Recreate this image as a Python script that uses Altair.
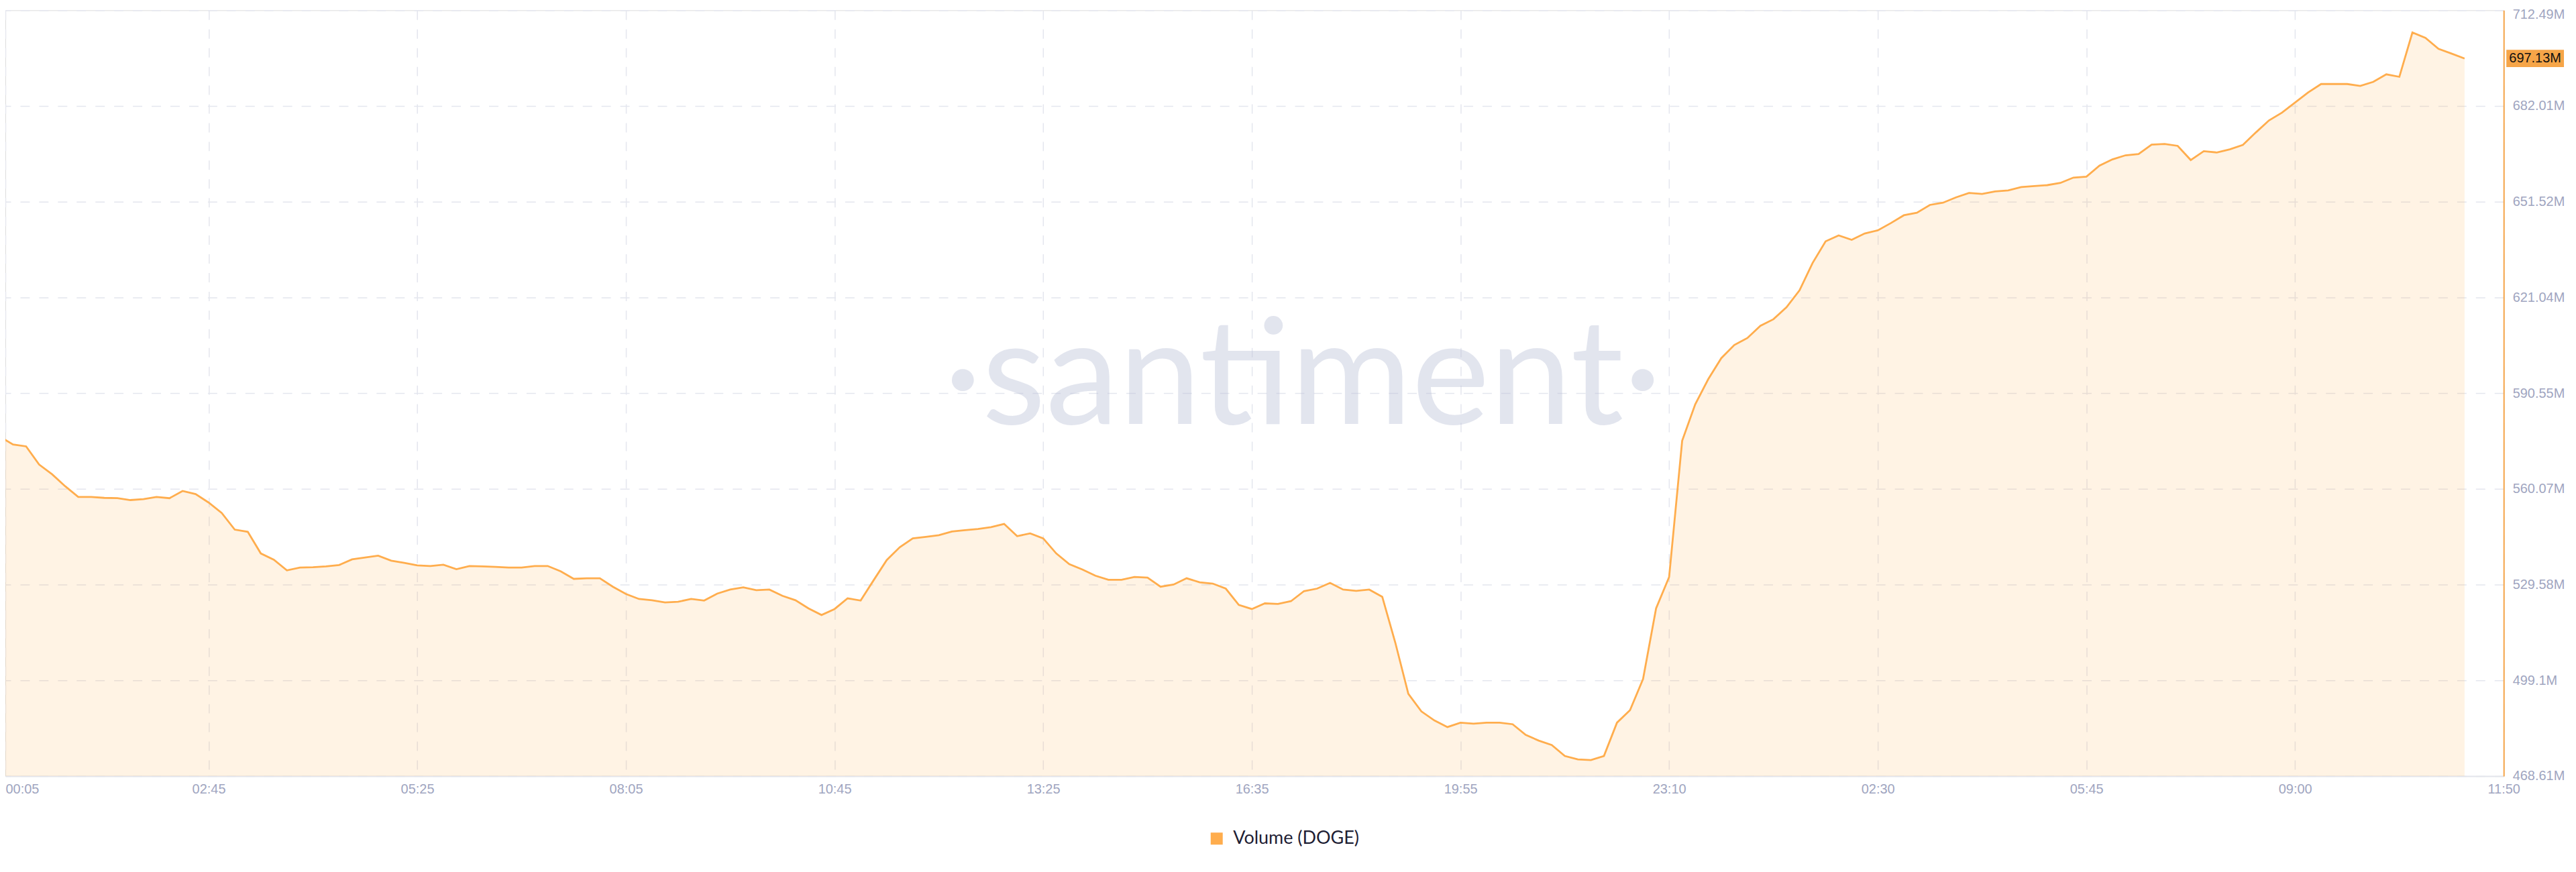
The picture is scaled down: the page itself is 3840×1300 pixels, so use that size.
import altair as alt
import pandas as pd

# ---- data ----
x_labels = ["00:05", "02:45", "05:25", "08:05", "10:45", "13:25", "16:35",
            "19:55", "23:10", "02:30", "05:45", "09:00", "11:50"]
steps_per_label = 16

y_ticks = [468.61, 499.1, 529.58, 560.07, 590.55, 621.04, 651.52, 682.01, 712.49]

volume_m = [
    576.7, 574.2, 573.6, 567.8, 564.7, 560.9, 557.5, 557.5, 557.2, 557.1,
    556.5, 556.8, 557.5, 557.1, 559.4, 558.4, 555.7, 552.4, 547.1, 546.4,
    539.5, 537.5, 534.1, 535.0, 535.1, 535.4, 535.8, 537.6, 538.2, 538.8,
    537.2, 536.5, 535.7, 535.5, 535.9, 534.5, 535.5, 535.4, 535.2, 535.0,
    535.0, 535.5, 535.5, 533.8, 531.4, 531.6, 531.6, 528.9, 526.6, 525.0,
    524.6, 523.9, 524.1, 525.0, 524.5, 526.7, 528.0, 528.7, 527.8, 528.0,
    526.0, 524.6, 522.0, 519.9, 521.8, 525.2, 524.5, 531.0, 537.4, 541.5,
    544.3, 544.8, 545.3, 546.5, 546.9, 547.3, 547.9, 548.9, 545.0, 545.9,
    544.3, 539.5, 536.1, 534.4, 532.4, 531.1, 531.1, 532.0, 531.8, 528.9,
    529.6, 531.6, 530.3, 529.9, 528.3, 523.1, 521.8, 523.6, 523.4, 524.3,
    527.5, 528.3, 530.1, 528.0, 527.6, 528.0, 525.7, 511.1, 494.8, 489.2,
    486.3, 484.2, 485.6, 485.3, 485.6, 485.6, 485.1, 481.7, 479.9, 478.5,
    475.0, 473.9, 473.7, 475.0, 485.6, 489.6, 499.5, 522.0, 532.0, 575.4,
    587.0, 595.0, 601.7, 605.9, 608.1, 612.0, 614.1, 617.9, 623.3, 632.0,
    638.9, 640.8, 639.4, 641.4, 642.4, 644.7, 647.2, 648.0, 650.5, 651.2,
    652.9, 654.3, 654.0, 654.8, 655.1, 656.2, 656.5, 656.8, 657.5, 659.2,
    659.5, 663.0, 665.0, 666.3, 666.7, 669.7, 669.9, 669.3, 664.8, 667.6,
    667.2, 668.2, 669.6, 673.6, 677.4, 679.9, 683.1, 686.3, 689.0, 689.0,
    689.0, 688.4, 689.7, 692.1, 691.3, 705.4, 703.7, 700.2, 698.7, 697.13,
]
series_name = "Volume (DOGE)"

# ---- layout ----
ORANGE = "#ffad4d"
AXIS_ORANGE = "#f6a548"
GRID = "#e4e6ee"
LABEL = "#a0a5bf"
W = 3732
H = 1144
x_max = steps_per_label * (len(x_labels) - 1)
full_w = 3740
x_min = 8 * x_max / full_w  # the reference plot starts at the page edge
top_test = f"datum.value > {y_ticks[-1] - 0.01}"

df = pd.DataFrame({"step": list(range(len(volume_m))),
                   "vol": volume_m,
                   "series": [series_name] * len(volume_m)})

label_expr = "[" + ",".join(f"'{l}'" for l in x_labels) + f"][round(datum.value/{steps_per_label})]"
x_vals = [x_min] + [i * steps_per_label for i in range(1, len(x_labels))]

x_enc = alt.X("step:Q",
              scale=alt.Scale(domain=[x_min, x_max], nice=False, zero=False),
              axis=alt.Axis(values=x_vals, labelExpr=label_expr, title=None,
                            grid=True, gridDash=[14, 14], gridColor=GRID, gridWidth=1.5,
                            domainColor="#e3e5ec", domainWidth=2, ticks=False,
                            labelColor=LABEL, labelFont="Liberation Sans", labelFontSize=20,
                            labelPadding=10,
                            labelAlign={"condition": {"test": "datum.value < 1", "value": "left"},
                                        "value": "center"}))
y_scale = alt.Scale(domain=[y_ticks[0], y_ticks[-1]], nice=False, zero=False)
y_enc = alt.Y("vol:Q", scale=y_scale,
              axis=alt.Axis(orient="right", values=y_ticks, title=None,
                            labelExpr="format(datum.value, '.2~f') + 'M'",
                            grid=True, gridDash=[14, 14], gridColor=GRID, gridWidth=1.5,
                            domainColor=AXIS_ORANGE, domainWidth=2, ticks=False,
                            labelColor=LABEL, labelFont="Liberation Sans", labelFontSize=20,
                            labelPadding=13,
                            labelBaseline={"condition": {"test": top_test, "value": "top"},
                                           "value": "middle"},
                            labelOffset={"condition": {"test": top_test, "value": -4},
                                         "value": 0}))

wm = alt.Chart(pd.DataFrame({"t": ["·santiment·"]})).mark_text(
    font="Lato", fontSize=220, color="#b8bfd6", opacity=0.4,
    align="center", baseline="alphabetic"
).encode(x=alt.value(1938), y=alt.value(618), text="t:N")

area = alt.Chart(df).mark_area(color=ORANGE, opacity=0.15, clip=True).encode(x=x_enc, y=y_enc)

line = alt.Chart(df).mark_line(strokeWidth=2.8, clip=True, color=ORANGE).encode(
    x="step:Q", y="vol:Q")

legend_src = alt.Chart(df.head(1)).mark_square(size=0, filled=True, opacity=1).encode(
    x="step:Q", y="vol:Q",
    color=alt.Color("series:N", scale=alt.Scale(range=[ORANGE]),
                    legend=alt.Legend(title=None, orient="none", legendX=1796, legendY=1224,
                                      symbolType="square", symbolSize=324,
                                      symbolFillColor=ORANGE, symbolStrokeWidth=0,
                                      symbolOpacity=1, labelFont="Lato", labelFontSize=27,
                                      labelColor="#1e2033", labelOffset=11, padding=0,
                                      labelLimit=0)))

last = pd.DataFrame({"vol": [volume_m[-1]], "label": [f"{volume_m[-1]:.2f}M"]})
badge = alt.Chart(last).mark_point(
    shape="M-1,-0.3L1,-0.3L1,0.3L-1,0.3Z", size=7396, filled=True,
    color=AXIS_ORANGE, opacity=1, strokeWidth=0
).encode(x=alt.value(W + 47), y="vol:Q")
badge_text = alt.Chart(last).mark_text(
    font="Liberation Sans", fontSize=20, color="#111111", align="center", baseline="middle"
).encode(x=alt.value(W + 47), y="vol:Q", text="label:N")

chart = alt.layer(wm, area, line, legend_src, badge, badge_text).properties(
    width=W, height=H,
    autosize=alt.AutoSizeParams(type="none"),
    padding={"left": 0, "top": 6, "right": 100, "bottom": 120},
).configure_view(stroke=None).configure(background="white")

chart.save("out.html", embed_options={"renderer": "svg", "actions": False})
